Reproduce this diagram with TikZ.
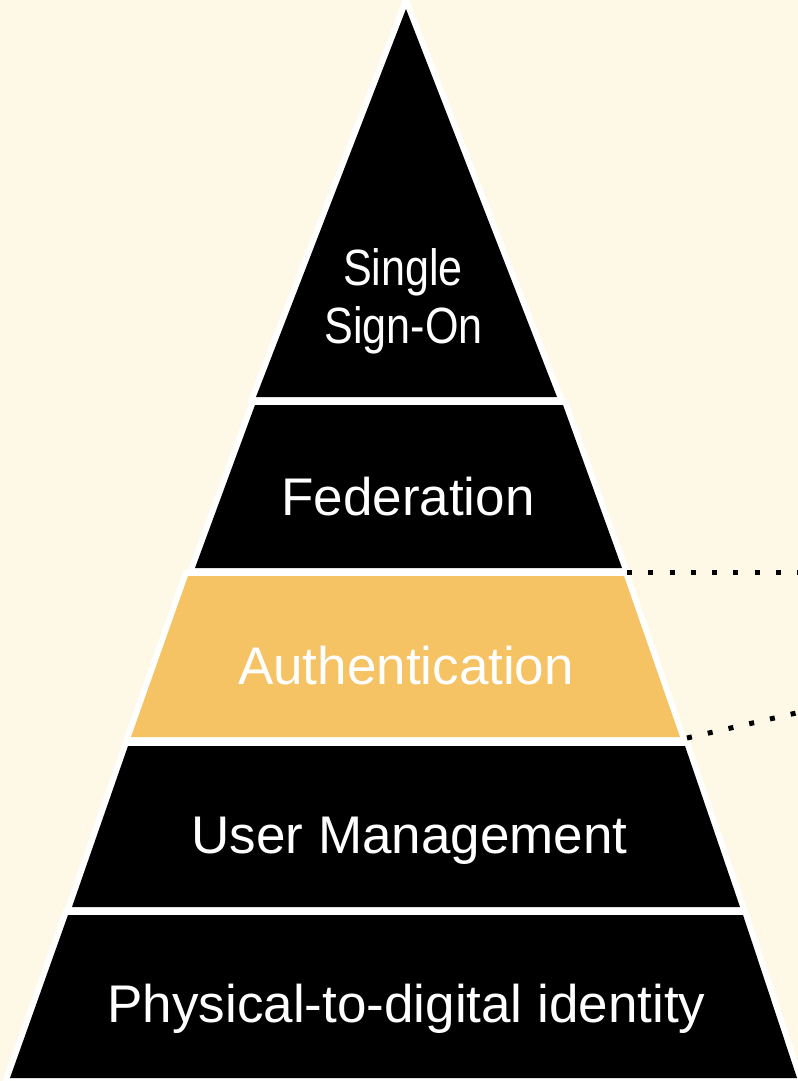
\documentclass[tikz,border=0pt]{standalone}
\usepackage{fontspec}
\setmainfont{Liberation Sans}
\newfontfamily\narrowfont[FakeStretch=0.845]{Liberation Sans}
\definecolor{cream}{HTML}{FEF9E7}
\definecolor{gold}{HTML}{F5C264}
\begin{document}
\begin{tikzpicture}[x=0.75pt,y=-0.75pt,
  outline/.style={draw=white,line width=9pt,line join=miter},
  band/.style={fill=black},
  label/.style={text=white,font=\fontsize{39.75pt}{46pt}\selectfont,anchor=base,inner sep=0pt},
  dotline/.style={line width=3.75pt,dash pattern=on 3.75pt off 12.2pt}]
\useasboundingbox (0,0) rectangle (798,1081);
\clip (0,0) rectangle (798,1081);
\fill[cream] (0,0) rectangle (798,1081);
% outlines
\path[outline] (406,9) -- (557,397) -- (256,397) -- cycle;
\path[outline] (255,405) -- (563,405) -- (622,568) -- (195,568) -- cycle;
\path[outline] (188,576) -- (624,576) -- (680,737) -- (131,737) -- cycle;
\path[outline] (128,746) -- (685,746) -- (740,907) -- (72,907) -- cycle;
\path[outline] (68,915) -- (743,915) -- (797,1078) -- (10,1078) -- cycle;
% fills
\fill[black] (406,9) -- (557,397) -- (256,397) -- cycle;
\fill[black] (255,405) -- (563,405) -- (622,568) -- (195,568) -- cycle;
\fill[gold] (188,576) -- (624,576) -- (680,737) -- (131,737) -- cycle;
\fill[black] (128,746) -- (685,746) -- (740,907) -- (72,907) -- cycle;
\fill[black] (68,915) -- (743,915) -- (797,1078) -- (10,1078) -- cycle;
% labels
\node[label,font=\narrowfont\fontsize{38.25pt}{44pt}\selectfont] (sso1) at (403,285) {Single};
\node[label,font=\narrowfont\fontsize{38.25pt}{44pt}\selectfont] (sso2) at (403.5,343) {Sign-On};
\node[label] (fed) at (408,515) {Federation};
\node[label] (auth) at (406,684) {Authentication};
\node[label] (um) at (409.5,853) {User Management};
\node[label] (phys) at (406.5,1022) {Physical-to-digital identity};
% dotted connectors
\coordinate (c1a) at (627,572);
\coordinate (c1b) at (805,572);
\coordinate (c2a) at (687,738);
\coordinate (c2b) at (805,711);
\draw[dotline] (c1a) -- (c1b);
\draw[dotline] (c2a) -- (c2b);
\end{tikzpicture}
\end{document}
